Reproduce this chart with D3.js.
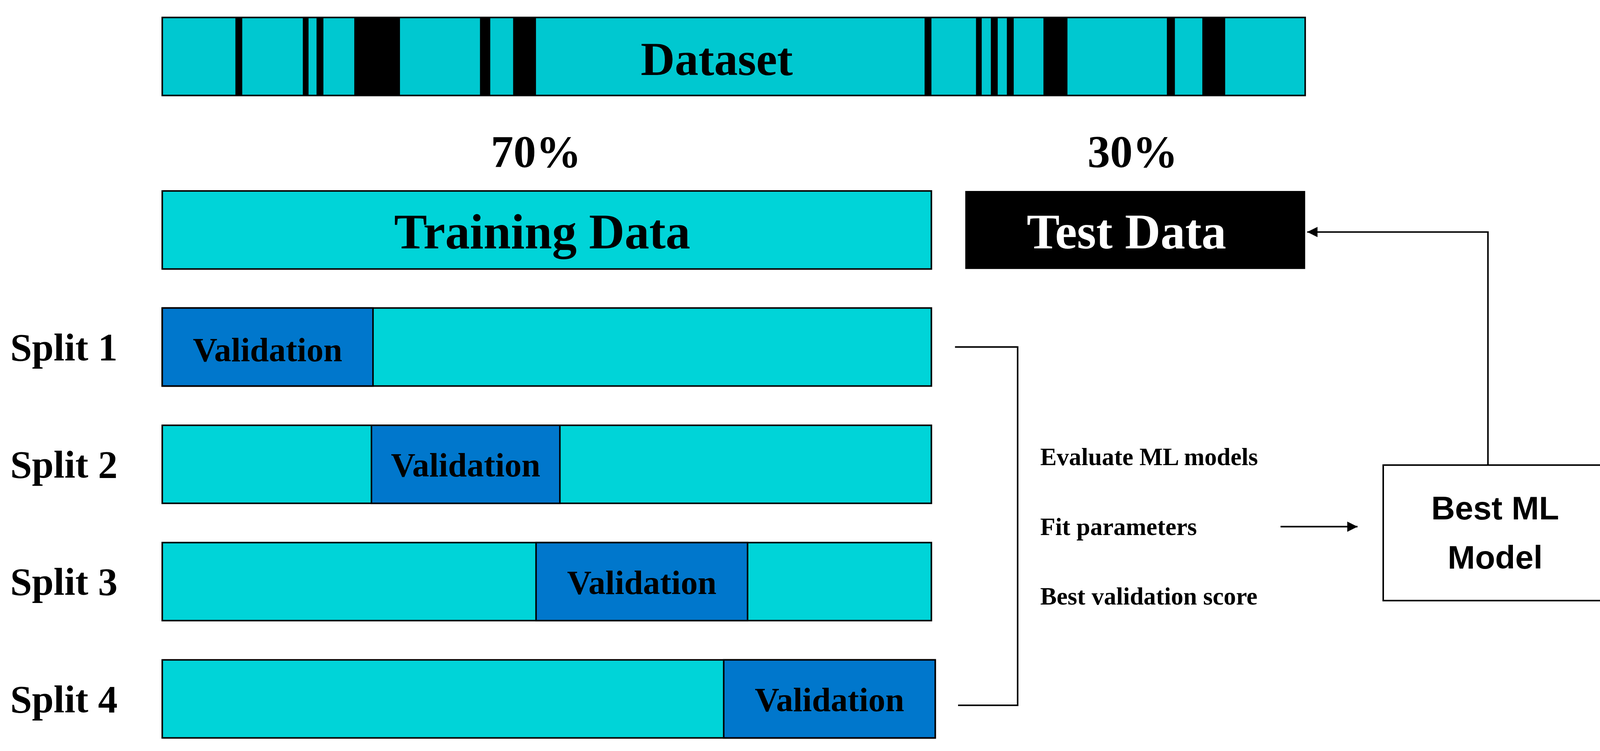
<!DOCTYPE html>
<html><head><meta charset="utf-8">
<script src="https://cdn.jsdelivr.net/npm/d3@7"></script>
<style>html,body{margin:0;padding:0;background:#fff;overflow:hidden}</style>
</head><body>
<script>
// Data
const datasetStripes = [[6.4,7.0],[12.3,12.8],[13.5,14.1],[16.8,20.8],[27.8,28.7],[30.7,32.7],[66.7,67.3],[71.2,71.7],[72.5,73.1],[73.9,74.5],[77.1,79.2],[87.9,88.6],[91.0,93.0]];
const splitLabels = ["Split 1","Split 2","Split 3","Split 4"];
const splitBarEnd = [100,100,100,100.5];
const validationStart = [0,27.2,48.6,73.0];
const validationEnd = [27.4,51.7,76.1,100.5];
const shares = ["70%","30%"];
const steps = ["Evaluate ML models","Fit parameters","Best validation score"];

const W=1568,H=731.5;
const svg=d3.select("body").append("svg").attr("width",4122).attr("height",1923).attr("viewBox",`0 0 ${W} ${H}`);
const serif="'Liberation Serif','Times New Roman',serif";
const cyan="#00d4d8", dcyan="#00c8d0", blue="#0077cc";

// Dataset bar
const xd=d3.scaleLinear().domain([0,100]).range([158,1271]);
svg.append("rect").attr("x",xd(0)).attr("y",17).attr("width",xd(100)-xd(0)).attr("height",76).attr("fill",dcyan).attr("stroke","#000").attr("stroke-width",1.5);
svg.selectAll(".st").data(datasetStripes).join("rect").attr("x",d=>xd(d[0])).attr("y",17).attr("width",d=>xd(d[1])-xd(d[0])).attr("height",76).attr("fill","#000");
svg.append("text").attr("x",698).attr("y",73).attr("text-anchor","middle").attr("font-family",serif).attr("font-weight","bold").attr("font-size",46).text("Dataset");

// Percent labels
svg.selectAll(".pc").data(shares).join("text").attr("x",(d,i)=>[522,1103][i]).attr("y",163).attr("text-anchor","middle").attr("font-family",serif).attr("font-weight","bold").attr("font-size",44).text(d=>d);

// Training / test
const xt=d3.scaleLinear().domain([0,100]).range([158,907]);
svg.append("rect").attr("x",xt(0)).attr("y",186).attr("width",xt(100)-xt(0)).attr("height",76).attr("fill",cyan).attr("stroke","#000").attr("stroke-width",1.5);
svg.append("text").attr("x",528).attr("y",242).attr("text-anchor","middle").attr("font-family",serif).attr("font-weight","bold").attr("font-size",48).text("Training Data");
svg.append("rect").attr("x",940).attr("y",186).attr("width",331).attr("height",76).attr("fill","#000");
svg.append("text").attr("x",1097).attr("y",242).attr("text-anchor","middle").attr("fill","#fff").attr("font-family",serif).attr("font-weight","bold").attr("font-size",48).text("Test Data");

// Splits
const ys=d3.scaleBand().domain(splitLabels).range([300,757]).paddingInner(0);
const bh=76;
splitLabels.forEach((s,i)=>{
  const y=ys(s);
  svg.append("rect").attr("x",xt(0)).attr("y",y).attr("width",xt(splitBarEnd[i])-xt(0)).attr("height",bh).attr("fill",cyan).attr("stroke","#000").attr("stroke-width",1.5);
  svg.append("rect").attr("x",xt(validationStart[i])).attr("y",y).attr("width",xt(validationEnd[i])-xt(validationStart[i])).attr("height",bh).attr("fill",blue).attr("stroke","#000").attr("stroke-width",1.5);
  svg.append("text").attr("x",(xt(validationStart[i])+xt(validationEnd[i]))/2).attr("y",y+bh/2+12+ (i==0?2:0)).attr("text-anchor","middle").attr("font-family",serif).attr("font-weight","bold").attr("font-size",33).text("Validation");
  svg.append("text").attr("x",10).attr("y",y+bh/2+13).attr("font-family",serif).attr("font-weight","bold").attr("font-size",38).text(s);
});

// Bracket
svg.append("path").attr("d","M930,338H991V687H933").attr("fill","none").attr("stroke","#000").attr("stroke-width",1.5);
svg.selectAll(".stp").data(steps).join("text").attr("x",1013).attr("y",(d,i)=>453+i*68).attr("font-family",serif).attr("font-weight","bold").attr("font-size",24).text(d=>d);

// arrows
const defs=svg.append("defs");
defs.append("marker").attr("id","ah").attr("viewBox","0 0 10 10").attr("refX",10).attr("refY",5).attr("markerWidth",10).attr("markerHeight",10).attr("markerUnits","userSpaceOnUse").attr("orient","auto").append("path").attr("d","M0,0L10,5L0,10z").attr("fill","#000");
svg.append("line").attr("x1",1247).attr("y1",513).attr("x2",1322).attr("y2",513).attr("stroke","#000").attr("stroke-width",1.5).attr("marker-end","url(#ah)");
svg.append("path").attr("d","M1449,453V226H1273").attr("fill","none").attr("stroke","#000").attr("stroke-width",1.5).attr("marker-end","url(#ah)");

// Best ML model box
svg.append("rect").attr("x",1347).attr("y",453).attr("width",218).attr("height",132).attr("fill","#fff").attr("stroke","#000").attr("stroke-width",1.5);
svg.selectAll(".bm").data(["Best ML","Model"]).join("text").attr("x",1456).attr("y",(d,i)=>506+i*48).attr("text-anchor","middle").attr("font-family","'Liberation Sans',Arial,sans-serif").attr("font-weight","bold").attr("font-size",32).text(d=>d);
</script>
</body></html>
